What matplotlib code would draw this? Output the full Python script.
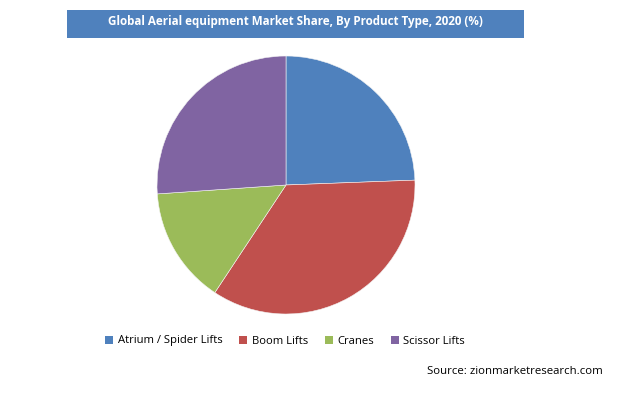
"""Pie chart: global aerial equipment market share by product type, 2020."""

import matplotlib

matplotlib.use("Agg")
import matplotlib.pyplot as plt  # noqa: E402
from matplotlib.patches import Patch, Rectangle  # noqa: E402

CATEGORIES = ["Atrium / Spider Lifts", "Boom Lifts", "Cranes", "Scissor Lifts"]
SHARES = [24.4, 34.9, 14.6, 26.1]
COLORS = ["#4F81BD", "#C0504D", "#9BBB59", "#8064A2"]
TITLE = "Global Aerial equipment Market Share, By Product Type, 2020 (%)"
SOURCE = "Source: zionmarketresearch.com"

W, H = 625, 396
plt.rcParams["font.family"] = ["Open Sans", "DejaVu Sans"]

fig = plt.figure(figsize=(W / 100, H / 100), dpi=100)

# title banner
fig.patches.append(
    Rectangle((67 / W, 1 - 38 / H), (524 - 67) / W, 28 / H,
              transform=fig.transFigure, facecolor="#4F81BD", edgecolor="none")
)
fig.text((104 + 486) / 2 / W, 1 - 21 / H, TITLE, ha="center", va="center",
         color="white", fontsize=8.4, fontweight="bold")

cx, cy, r = 286, 185, 129
ax = fig.add_axes([(cx - r) / W, (H - cy - r) / H, 2 * r / W, 2 * r / H])
ax.pie(SHARES, colors=COLORS, startangle=90, counterclock=False, radius=1,
       wedgeprops={"linewidth": 0.4, "edgecolor": "#f4f4f4"})
ax.set_xlim(-1, 1)
ax.set_ylim(-1, 1)
ax.set_aspect("equal")
ax.axis("off")

handles = [Patch(facecolor=c, edgecolor="none") for c in COLORS]
fig.legend(handles, CATEGORIES, loc="center", ncol=4, frameon=False,
           bbox_to_anchor=(285 / W, 1 - 341 / H), fontsize=8.1,
           handlelength=0.7, handleheight=0.7, handletextpad=0.4,
           columnspacing=1.5)

fig.text(603 / W, 1 - 371 / H, SOURCE, ha="right", va="center", fontsize=8.2)

fig.savefig("out.png", dpi=100)
